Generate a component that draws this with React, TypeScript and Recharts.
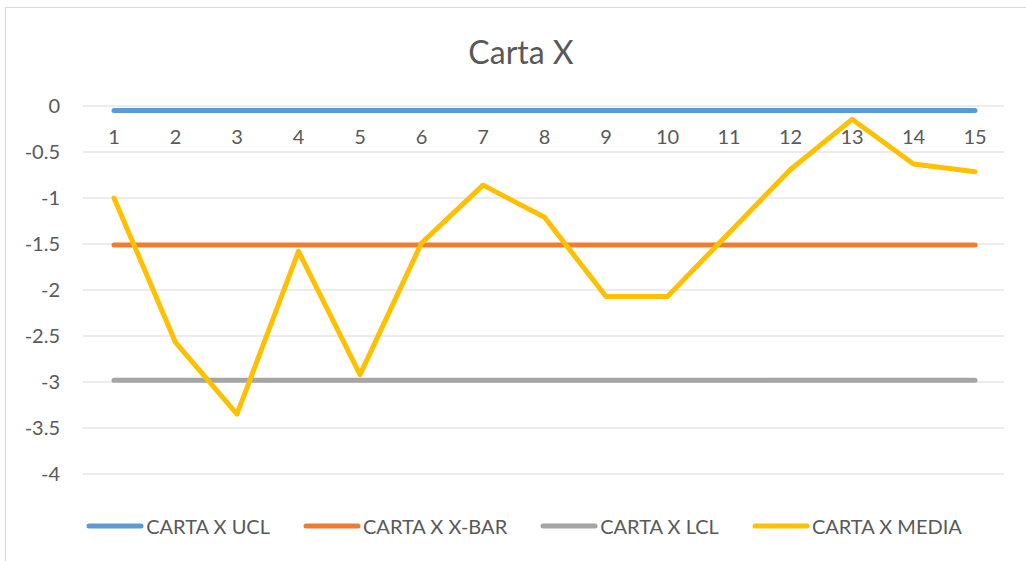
import { CartesianGrid, Legend, Line, LineChart, XAxis, YAxis } from "recharts";

const samples = ["1", "2", "3", "4", "5", "6", "7", "8", "9", "10", "11", "12", "13", "14", "15"];
const uclValues = [-0.05, -0.05, -0.05, -0.05, -0.05, -0.05, -0.05, -0.05, -0.05, -0.05, -0.05, -0.05, -0.05, -0.05, -0.05];
const xbarValues = [-1.51, -1.51, -1.51, -1.51, -1.51, -1.51, -1.51, -1.51, -1.51, -1.51, -1.51, -1.51, -1.51, -1.51, -1.51];
const lclValues = [-2.98, -2.98, -2.98, -2.98, -2.98, -2.98, -2.98, -2.98, -2.98, -2.98, -2.98, -2.98, -2.98, -2.98, -2.98];
const mediaValues = [-1.0, -2.57, -3.35, -1.58, -2.92, -1.49, -0.86, -1.21, -2.07, -2.07, -1.38, -0.69, -0.145, -0.63, -0.715];
const yTicks = [0, -0.5, -1, -1.5, -2, -2.5, -3, -3.5, -4];

const series = [
  { key: "ucl", name: "CARTA X UCL", color: "#5b9bd5" },
  { key: "xbar", name: "CARTA X X-BAR", color: "#ed7d31" },
  { key: "lcl", name: "CARTA X LCL", color: "#a5a5a5" },
  { key: "media", name: "CARTA X MEDIA", color: "#ffc000" },
];

const data = samples.map((label, i) => ({
  label,
  ucl: uclValues[i],
  xbar: xbarValues[i],
  lcl: lclValues[i],
  media: mediaValues[i],
}));

const textColor = "#595959";
const font = "Lato, 'Open Sans', sans-serif";

function TopTick(props: any) {
  const { x, y, payload } = props;
  return (
    <text x={x} y={y + 38} textAnchor="middle" fill={textColor} fontSize={20} fontFamily={font}>
      {payload.value}
    </text>
  );
}

function LegendContent() {
  return (
    <div style={{ display: "flex", justifyContent: "center", alignItems: "center", gap: 33, height: 30 }}>
      {series.map((s) => (
        <div key={s.key} style={{ display: "flex", alignItems: "center" }}>
          <svg width={58} height={10}>
            <line x1={3} y1={5} x2={55} y2={5} stroke={s.color} strokeWidth={5} strokeLinecap="round" />
          </svg>
          <span style={{ color: textColor, fontSize: 20, fontFamily: font, marginLeft: 2 }}>{s.name}</span>
        </div>
      ))}
    </div>
  );
}

export default function App() {
  return (
    <div
      style={{
        position: "absolute",
        left: 5,
        top: 7,
        width: 1040,
        height: 570,
        border: "1px solid #d9d9d9",
        background: "#fff",
        fontFamily: font,
      }}
    >
      <div
        style={{
          position: "absolute",
          left: 0,
          top: 24,
          width: 1030,
          textAlign: "center",
          fontSize: 32,
          color: textColor,
          fontFamily: font,
        }}
      >
        Carta X
      </div>
      <LineChart
        width={1021}
        height={554}
        data={data}
        margin={{ top: 78, right: 23, left: 17, bottom: 58 }}
      >
        <CartesianGrid vertical={false} stroke="#d9d9d9" strokeWidth={1} />
        <XAxis
          dataKey="label"
          orientation="top"
          height={20}
          padding={{ left: 31, right: 29 }}
          axisLine={false}
          tickLine={false}
          tickSize={0}
          tickMargin={0}
          interval={0}
          tick={<TopTick />}
        />
        <YAxis
          domain={[-4, 0]}
          ticks={yTicks}
          width={60}
          axisLine={false}
          tickLine={false}
          tickSize={0}
          tickMargin={23}
          tick={{ fill: textColor, fontSize: 20, fontFamily: font }}
        />
        <Legend
          verticalAlign="bottom"
          content={<LegendContent />}
          wrapperStyle={{ left: -2, width: 1040, bottom: 21, height: 30 }}
        />
        {series.map((s) => (
          <Line
            key={s.key}
            type="linear"
            dataKey={s.key}
            name={s.name}
            stroke={s.color}
            strokeWidth={5}
            strokeLinecap="round"
            strokeLinejoin="round"
            dot={false}
            activeDot={false}
            isAnimationActive={false}
          />
        ))}
      </LineChart>
    </div>
  );
}
